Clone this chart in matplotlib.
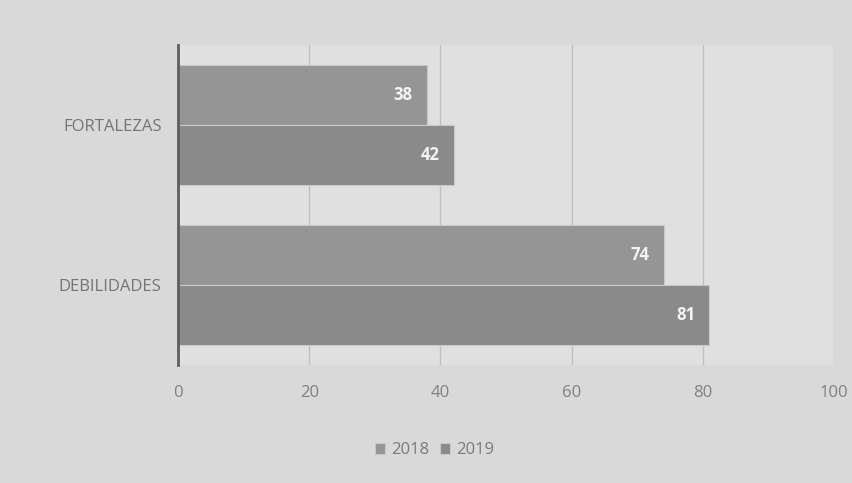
import matplotlib
matplotlib.use("Agg")
import matplotlib.pyplot as plt
import numpy as np

categories = ["DEBILIDADES", "FORTALEZAS"]
series_names = ["2018", "2019"]
values_2018 = [74, 38]
values_2019 = [81, 42]
xticks = [0, 20, 40, 60, 80, 100]

plt.rcParams['font.family'] = ['Open Sans', 'DejaVu Sans']

fig = plt.figure(figsize=(8.52, 4.83), dpi=100, facecolor="#d9d9d9")
ax = fig.add_axes([0.209, 0.244, 0.770, 0.663])
ax.set_facecolor("#e0e0e0")

y = np.arange(len(categories))
h = 0.375
c2018 = "#959595"
c2019 = "#8a8a8a"
b1 = ax.barh(y + h / 2, values_2018, height=h, color=c2018, edgecolor="#c8c8c8", linewidth=0.8, label=series_names[0], zorder=3)
b2 = ax.barh(y - h / 2, values_2019, height=h, color=c2019, edgecolor="#c8c8c8", linewidth=0.8, label=series_names[1], zorder=3)

for bars in (b1, b2):
    for rect in bars:
        w = rect.get_width()
        ax.text(w - 2.2, rect.get_y() + rect.get_height() / 2, f"{int(w)}",
                ha="right", va="center", color="#f4f4f4", fontsize=12, fontweight="bold", zorder=4)

ax.set_xlim(0, 100)
ax.set_ylim(-0.5, 1.5)
ax.set_xticks(xticks)
ax.set_xticklabels([str(t) for t in xticks], color="#808080", fontsize=12)
ax.set_yticks(y)
ax.set_yticklabels(categories, color="#737373", fontsize=12)
ax.tick_params(axis="both", length=0, pad=14)
ax.tick_params(axis="y", pad=12)
ax.xaxis.grid(True, color="#c0c0c0", linewidth=1.0, zorder=0)
for s in ("top", "right", "bottom"):
    ax.spines[s].set_visible(False)
ax.spines["left"].set_color("#5e5e5e")
ax.spines["left"].set_linewidth(2)
ax.spines["left"].set_zorder(5)

leg = fig.legend(handles=[b1, b2], labels=series_names, loc="center", bbox_to_anchor=(0.51, 0.068),
                 ncol=2, frameon=False, fontsize=12, handlelength=0.6, handleheight=0.6,
                 handletextpad=0.4, columnspacing=0.6)
for t in leg.get_texts():
    t.set_color("#7a7a7a")

fig.savefig("out.png", dpi=100, facecolor=fig.get_facecolor())
